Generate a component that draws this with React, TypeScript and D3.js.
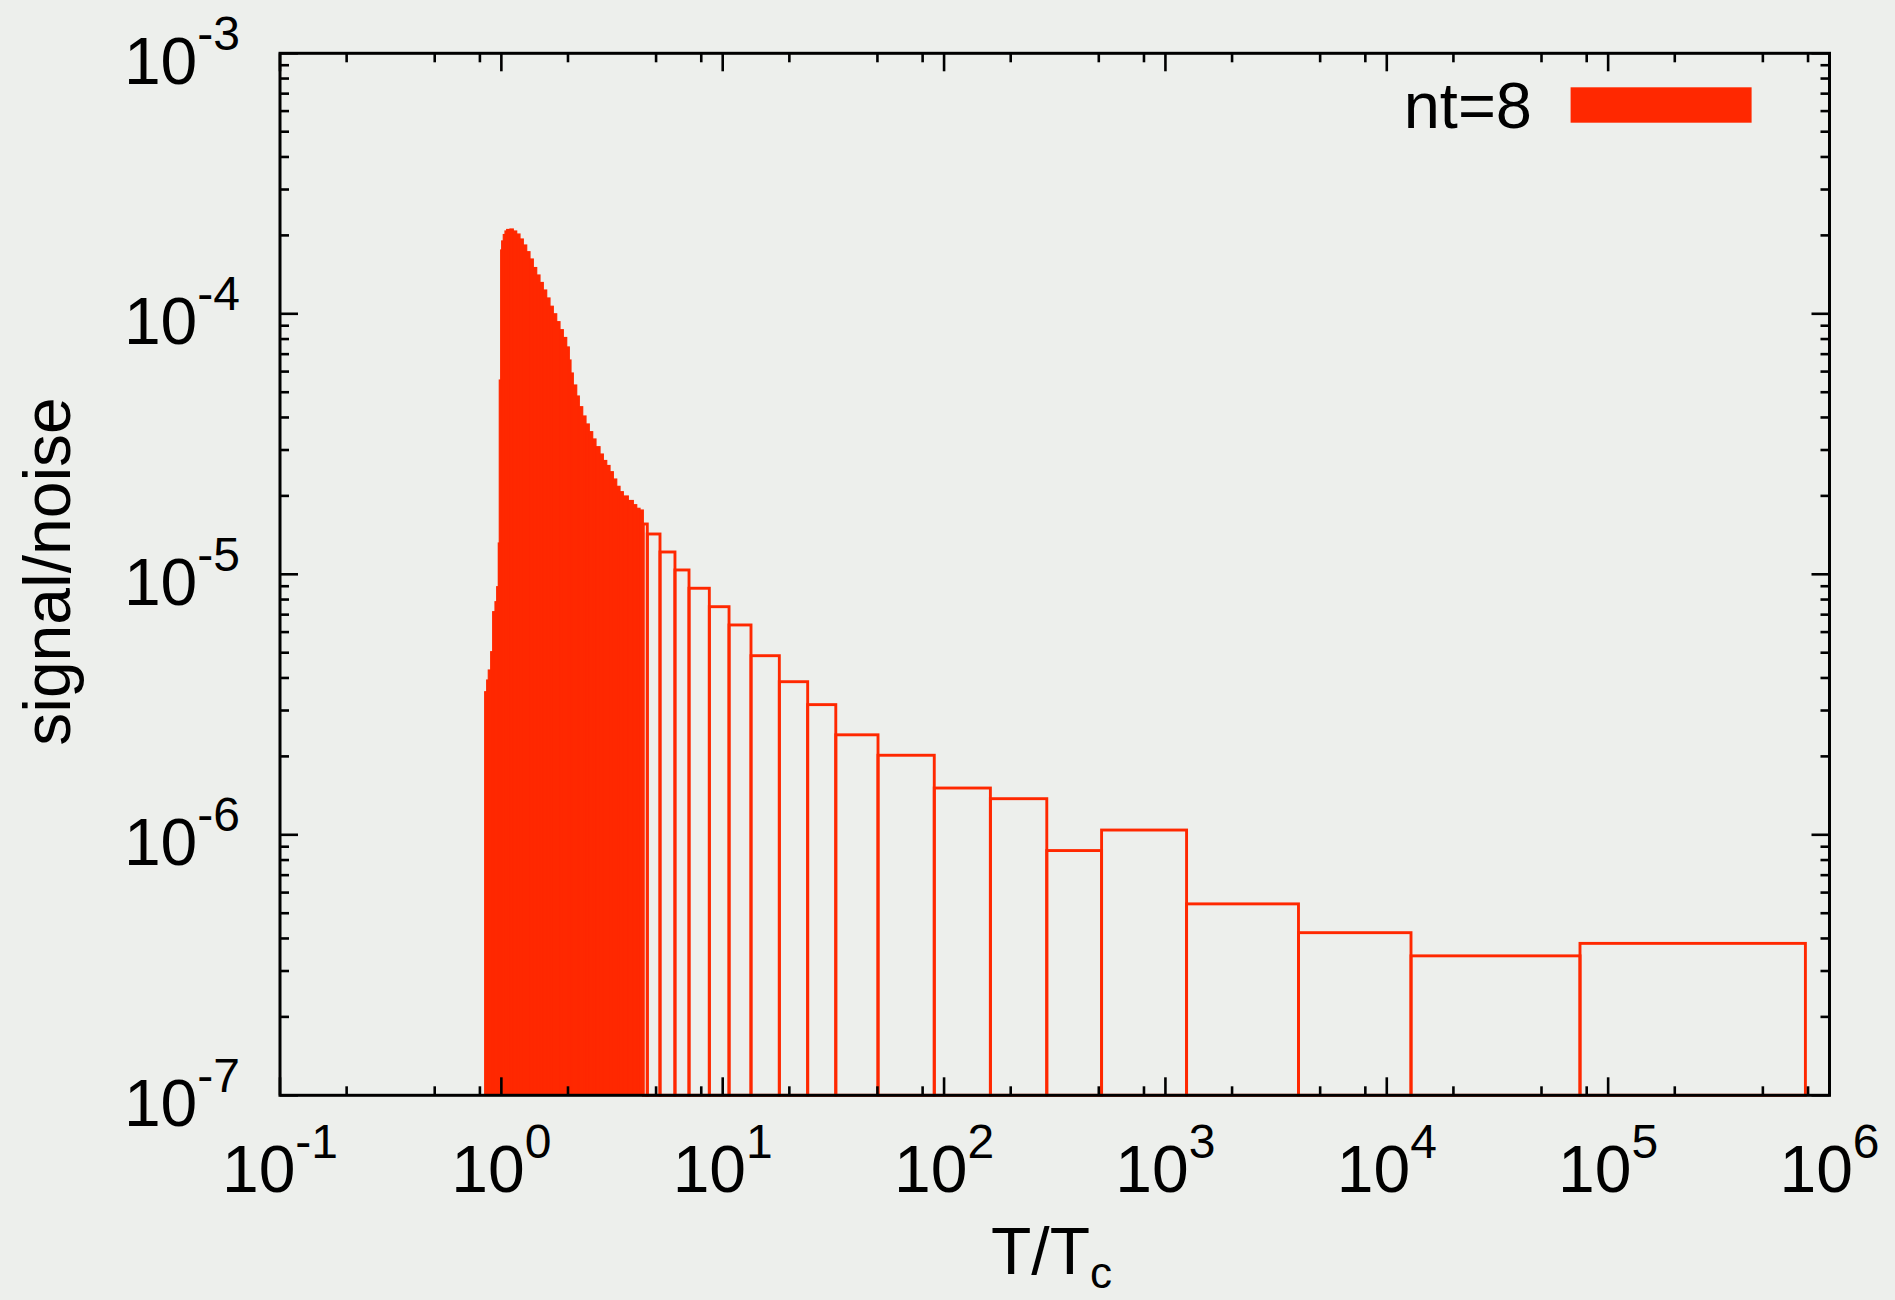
import React from 'react';
import * as d3 from 'd3';

// ---- data ----
const xDomain: [number, number] = [1e-1, 1e6];
const yDomain: [number, number] = [1e-7, 1e-3];
const xMajorExps = [-1, 0, 1, 2, 3, 4, 5, 6];
const yMajorExps = [-7, -6, -5, -4, -3];
const xMinorMultipliers = [2, 5, 8];
const yMinorMultipliers = [2, 3, 4, 5, 6, 7, 8, 9];

// narrow bins (appear as a filled mass)
const denseEdges = [
  0.8409, 0.8586, 0.873, 0.8951, 0.9138, 0.936, 0.9527, 0.9687, 0.9788, 0.9931,
  1.0035, 1.0204, 1.0386, 1.0571, 1.094, 1.1322, 1.1729, 1.214, 1.2564, 1.3016,
  1.347, 1.3941, 1.4442, 1.4946, 1.5468, 1.6024, 1.6584, 1.7163, 1.7783, 1.8404,
  1.9047, 1.9732, 2.0273, 2.0635, 2.1135, 2.1895, 2.2496, 2.3305, 2.4118, 2.496,
  2.5857, 2.676, 2.791, 2.8885, 2.9924, 3.0968, 3.2049, 3.3203, 3.4362, 3.5561,
  3.7459, 3.9459, 4.0878, 4.2305, 4.378,
];
const denseValues = [
  3.541e-6, 3.928e-6, 4.291e-6, 5.045e-6, 7.185e-6, 7.846e-6, 8.96e-6, 1.3186e-5, 5.568e-5, 1.758e-4,
  1.904e-4, 2.015e-4, 2.079e-4, 2.107e-4, 2.116e-4, 2.079e-4, 2.024e-4, 1.937e-4, 1.837e-4, 1.731e-4,
  1.623e-4, 1.505e-4, 1.409e-4, 1.319e-4, 1.234e-4, 1.15e-4, 1.069e-4, 1.0e-4, 9.326e-5, 8.69e-5,
  8.11e-5, 7.459e-5, 6.647e-5, 5.925e-5, 5.329e-5, 4.835e-5, 4.398e-5, 4.052e-5, 3.776e-5, 3.527e-5,
  3.307e-5, 3.089e-5, 2.895e-5, 2.734e-5, 2.616e-5, 2.476e-5, 2.321e-5, 2.176e-5, 2.075e-5, 1.998e-5,
  1.92e-5, 1.85e-5, 1.792e-5, 1.765e-5,
];

// wide bins (drawn as outlines)
const wideEdges = [
  4.378, 4.563, 5.208, 6.085, 7.043, 8.7, 10.68, 13.42, 18.02, 24.2, 32.42,
  50.3, 90.3, 161.9, 291.1, 514.7, 1246, 3991, 12865, 74620, 778300,
];
const wideValues = [
  1.56e-5, 1.428e-5, 1.218e-5, 1.039e-5, 8.84e-6, 7.51e-6, 6.39e-6, 4.87e-6, 3.87e-6, 3.16e-6,
  2.42e-6, 2.02e-6, 1.512e-6, 1.376e-6, 8.7e-7, 1.043e-6, 5.43e-7, 4.21e-7, 3.43e-7, 3.83e-7,
];

const legendLabel = 'nt=8';
const xTitle = 'T/T';
const xTitleSub = 'c';
const yTitle = 'signal/noise';

// ---- layout ----
const W = 1895;
const H = 1300;
const M = { left: 280, right: 1829.5, top: 53.3, bottom: 1095.3 };
const RED = '#ff2800';
const BG = '#edefec';
const FONT = '"Liberation Sans", Arial, Helvetica, sans-serif';

export default function App() {
  const x = d3.scaleLog().domain(xDomain).range([M.left, M.right]);
  const y = d3.scaleLog().domain(yDomain).range([M.bottom, M.top]);
  const y0 = y(yDomain[0]);

  const dense = denseValues.map((v, i) => ({ x0: denseEdges[i], x1: denseEdges[i + 1], v }));
  const wide = wideValues.map((v, i) => ({ x0: wideEdges[i], x1: wideEdges[i + 1], v }));

  const xMinor: number[] = [];
  xMajorExps.slice(0, -1).forEach((e) => xMinorMultipliers.forEach((m) => xMinor.push(m * Math.pow(10, e))));
  const yMinor: number[] = [];
  yMajorExps.slice(0, -1).forEach((e) => yMinorMultipliers.forEach((m) => yMinor.push(m * Math.pow(10, e))));

  const MAJ = 18;
  const MIN = 9;
  const tickW = 2.6;

  return (
    <svg
      width={W}
      height={H}
      style={{ position: 'absolute', left: 0, top: 0, display: 'block' }}
      fontFamily={FONT}
    >
      <rect x={0} y={0} width={W} height={H} fill={BG} />

      {/* dense bins */}
      {dense.map((d, i) => (
        <rect
          key={'d' + i}
          x={x(d.x0)}
          y={y(d.v)}
          width={x(d.x1) - x(d.x0)}
          height={y0 - y(d.v)}
          fill={RED}
          stroke={RED}
          strokeWidth={1.2}
        />
      ))}
      {/* wide bins */}
      {wide.map((d, i) => (
        <rect
          key={'w' + i}
          x={x(d.x0)}
          y={y(d.v)}
          width={x(d.x1) - x(d.x0)}
          height={y0 - y(d.v)}
          fill="none"
          stroke={RED}
          strokeWidth={2.9}
        />
      ))}

      {/* ticks */}
      <g stroke="#000" strokeWidth={tickW}>
        {xMajorExps.map((e) => {
          const px = x(Math.pow(10, e));
          return (
            <g key={'xM' + e}>
              <line x1={px} x2={px} y1={M.bottom} y2={M.bottom - MAJ} />
              <line x1={px} x2={px} y1={M.top} y2={M.top + MAJ} />
            </g>
          );
        })}
        {xMinor.map((v, i) => {
          const px = x(v);
          return (
            <g key={'xm' + i}>
              <line x1={px} x2={px} y1={M.bottom} y2={M.bottom - MIN} />
              <line x1={px} x2={px} y1={M.top} y2={M.top + MIN} />
            </g>
          );
        })}
        {yMajorExps.map((e) => {
          const py = y(Math.pow(10, e));
          return (
            <g key={'yM' + e}>
              <line x1={M.left} x2={M.left + MAJ} y1={py} y2={py} />
              <line x1={M.right} x2={M.right - MAJ} y1={py} y2={py} />
            </g>
          );
        })}
        {yMinor.map((v, i) => {
          const py = y(v);
          return (
            <g key={'ym' + i}>
              <line x1={M.left} x2={M.left + MIN} y1={py} y2={py} />
              <line x1={M.right} x2={M.right - MIN} y1={py} y2={py} />
            </g>
          );
        })}
      </g>

      {/* frame */}
      <rect
        x={M.left}
        y={M.top}
        width={M.right - M.left}
        height={M.bottom - M.top}
        fill="none"
        stroke="#000"
        strokeWidth={3}
      />

      {/* x tick labels */}
      {xMajorExps.map((e) => (
        <text key={'xl' + e} x={x(Math.pow(10, e))} y={M.bottom + 96.5} textAnchor="middle" fontSize={66} fill="#000">
          <tspan>10</tspan>
          <tspan dy={-34} fontSize={48}>{String(e)}</tspan>
        </text>
      ))}

      {/* y tick labels */}
      {yMajorExps.map((e) => (
        <text key={'yl' + e} x={240} y={y(Math.pow(10, e)) + 30.5} textAnchor="end" fontSize={66} fill="#000">
          <tspan>10</tspan>
          <tspan dy={-34} fontSize={48}>{String(e)}</tspan>
        </text>
      ))}

      {/* axis titles */}
      <text x={991} y={1274} fontSize={66} fill="#000">
        <tspan>{xTitle}</tspan>
        <tspan dy={14} fontSize={44}>{xTitleSub}</tspan>
      </text>
      <text
        transform={`translate(70, ${(400 + 743) / 2}) rotate(-90)`}
        textAnchor="middle"
        fontSize={66}
        fill="#000"
      >
        {yTitle}
      </text>

      {/* legend */}
      <text x={1532} y={127.5} textAnchor="end" fontSize={65} fill="#000">
        {legendLabel}
      </text>
      <rect x={1570.6} y={87.3} width={181} height={35.4} fill={RED} />
    </svg>
  );
}
